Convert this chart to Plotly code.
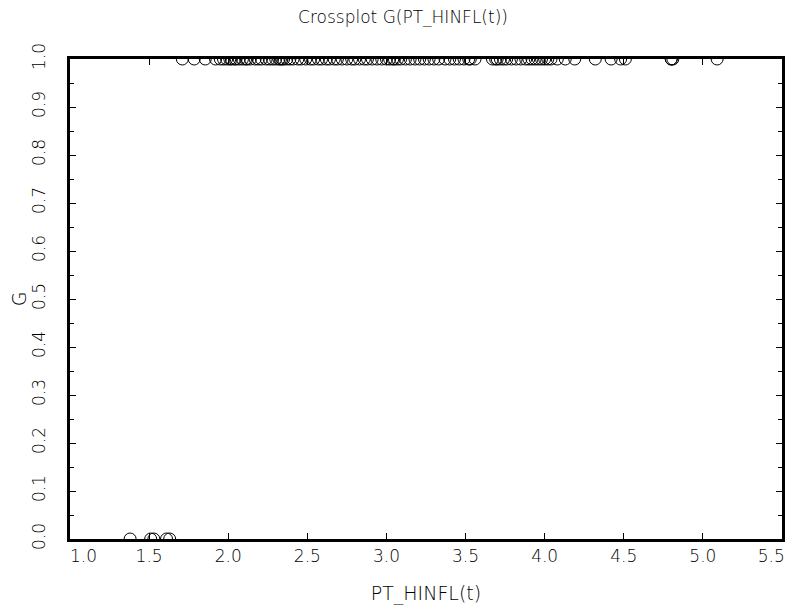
import plotly.graph_objects as go

x_g1 = [1.71, 1.785, 1.855, 1.92, 1.95,
        1.97, 1.99, 2.01, 2.02, 2.04, 2.05, 2.07, 2.09, 2.11, 2.12, 2.14, 2.17,
        2.19, 2.21, 2.24, 2.26, 2.28, 2.30, 2.32, 2.33, 2.34, 2.35, 2.37, 2.39,
        2.41, 2.44, 2.46, 2.49, 2.52, 2.54, 2.57, 2.59, 2.62, 2.64, 2.67, 2.69,
        2.72, 2.75, 2.78, 2.80, 2.83, 2.86, 2.88, 2.91, 2.94, 2.97, 3.00, 3.02,
        3.04, 3.05, 3.07, 3.09, 3.12, 3.15, 3.18, 3.21, 3.24, 3.27, 3.30, 3.33,
        3.37, 3.40, 3.43, 3.46, 3.49, 3.52, 3.53, 3.56,
        3.67, 3.69, 3.70, 3.72, 3.74, 3.76, 3.79, 3.82, 3.85, 3.88, 3.90, 3.92,
        3.94, 3.96, 3.98, 4.00, 4.02, 4.04, 4.08, 4.13, 4.19, 4.32, 4.42, 4.48,
        4.51, 4.80, 4.80, 4.81, 5.09]
x_g0 = [1.38, 1.51, 1.53, 1.61, 1.63]

x_ticks = [1.0, 1.5, 2.0, 2.5, 3.0, 3.5, 4.0, 4.5, 5.0, 5.5]
# edge labels are nudged inwards, as in the reference
x_ticklabels = ["\u00a0" * 5 + "1.0", "1.5", "2.0", "2.5", "3.0",
                "3.5", "4.0", "4.5", "5.0", "5.5" + "\u00a0" * 4]

x_all = x_g0 + x_g1
g_all = [0] * len(x_g0) + [1] * len(x_g1)

# the page body adds an 8px margin, so the figure is 8px smaller than the window
font = dict(family="DejaVu Sans", size=17, color="#000", weight=200)

fig = go.Figure()
fig.add_trace(go.Scatter(
    x=x_all, y=g_all, mode="markers",
    marker=dict(symbol="circle-open", size=12, color="black", line=dict(width=1)),
    cliponaxis=True, showlegend=False,
))

fig.update_layout(
    width=790, height=599,
    margin=dict(l=62, r=16, t=51, b=68),
    paper_bgcolor="white", plot_bgcolor="white",
    font=font,
    title=dict(text="Crossplot G(PT_HINFL(t))", x=0.5, xanchor="center",
               y=0.985, yanchor="middle", font=dict(size=17)),
)
fig.update_xaxes(
    range=[1.0, 5.5], tickvals=x_ticks, ticktext=x_ticklabels,
    showgrid=False, zeroline=False, automargin=False,
    showline=True, linecolor="black", linewidth=2.5, mirror="ticks",
    ticks="inside", ticklen=6, tickcolor="black", tickwidth=1,
    ticklabeloverflow="allow",
    title=dict(text="PT_HINFL(t)", standoff=22, font=dict(size=19)),
)
fig.update_yaxes(
    range=[0.0, 1.0], dtick=0.1, tickformat=".1f", tickangle=-90,
    showgrid=False, zeroline=False, automargin=False,
    showline=True, linecolor="black", linewidth=2.5, mirror="ticks",
    ticks="inside", ticklen=6, tickcolor="black", tickwidth=1,
    ticklabelstandoff=15,
    minor=dict(dtick=0.05, ticks="inside", ticklen=4, tickcolor="black", tickwidth=1),
    title=dict(text="G", standoff=10, font=dict(size=19)),
)

fig.write_html("out.html")
